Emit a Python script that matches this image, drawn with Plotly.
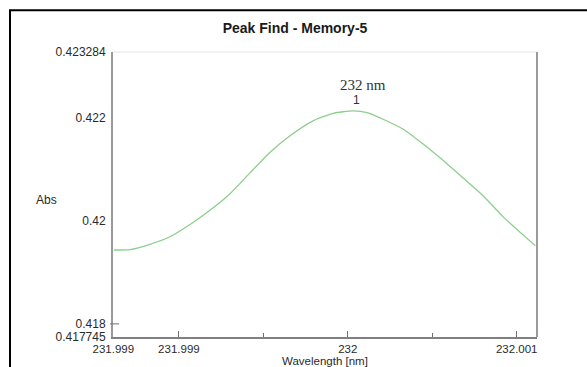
import plotly.graph_objects as go

# Data
wavelength = [231.998616, 231.998710, 231.998829, 231.998947, 231.999066, 231.999184,
              231.999303, 231.999421, 231.999540, 231.999658, 231.999794, 231.999913,
              232.000031, 232.000114, 232.000209, 232.000328, 232.000446, 232.000565,
              232.000683, 232.000802, 232.000920, 232.001039, 232.001110]
absorbance = [0.419436, 0.419443, 0.419546, 0.419694, 0.419932, 0.420208,
              0.420530, 0.420935, 0.421335, 0.421655, 0.421945, 0.422093,
              0.422138, 0.422107, 0.421977, 0.421784, 0.421495, 0.421173,
              0.420833, 0.420485, 0.420080, 0.419725, 0.419520]

x_tickvals = [231.998612, 231.999, 232.0, 232.001]
x_ticktext = ["231.999", "231.999", "232", "232.001"]
x_minor = [231.9995, 232.0005]
y_tickvals = [0.4177455, 0.418, 0.42, 0.422, 0.4232835]
y_ticktext = ["0.417745", "0.418", "0.42", "0.422", "0.423284"]
x_range = [231.99861, 232.00112]
y_range = [0.417745, 0.423284]

FONT = "Liberation Sans, Arial, sans-serif"
TXT = "#2a2a2a"

fig = go.Figure()
fig.add_trace(go.Scatter(x=wavelength, y=absorbance, mode="lines",
                         line=dict(color="#8ccf8c", width=1.3, shape="spline", smoothing=0.6),
                         hoverinfo="skip", showlegend=False))

W, H = 587, 367
L, R, T, B = 113, 50, 52, 28
pw = W - L - R
ph = H - T - B

def px(xp):
    return (xp - L) / pw

def py(yp):
    return (H - B - yp) / ph

fig.update_layout(
    width=W, height=H,
    margin=dict(l=L, r=R, t=T, b=B),
    paper_bgcolor="white", plot_bgcolor="white",
    font=dict(family=FONT, size=12, color=TXT),
    title=dict(text="<b>Peak Find - Memory-5</b>", x=295 / W, xanchor="center",
               y=1 - 28 / H, yanchor="middle", font=dict(size=14, color="#1a1a1a", family=FONT)),
    xaxis=dict(range=x_range, tickvals=x_tickvals, ticktext=x_ticktext,
               showgrid=False, zeroline=False, showline=True, linecolor="#808080", linewidth=1.5,
               ticks="inside", ticklen=6, tickcolor="#707070", tickwidth=1,
               minor=dict(tickvals=x_minor, ticks="inside", ticklen=4, tickcolor="#707070"),
               tickfont=dict(size=11.5, color=TXT), ticklabelstandoff=0),
    yaxis=dict(range=y_range, tickvals=y_tickvals, ticktext=y_ticktext,
               showgrid=False, zeroline=False, showline=True, linecolor="#9a9a9a", linewidth=2,
               ticks="", tickfont=dict(size=12, color=TXT), ticklabelstandoff=3),
)

shapes = [
    # outer black frame
    dict(type="rect", xref="paper", yref="paper", x0=px(10), x1=px(600), y0=py(380), y1=py(10),
         line=dict(color="black", width=2), fillcolor="rgba(0,0,0,0)", layer="below"),
    # top border of plot area (light)
    dict(type="line", xref="paper", yref="paper", x0=0, x1=1, y0=1, y1=1,
         line=dict(color="#e4e4e4", width=1)),
    # right border of plot area
    dict(type="line", xref="paper", yref="paper", x0=1, x1=1, y0=0, y1=1,
         line=dict(color="#7a7a7a", width=1.5)),
    # tick at 0.418
    dict(type="line", xref="paper", yref="y", x0=px(110), x1=px(119), y0=0.418, y1=0.418,
         line=dict(color="#707070", width=1)),
]
fig.update_layout(shapes=shapes)

annotations = [
    dict(text="232 nm", xref="paper", yref="paper", x=px(362.5), y=py(85), showarrow=False,
         font=dict(family="Liberation Serif, Times New Roman, serif", size=15, color="#333333"),
         xanchor="center", yanchor="middle"),
    dict(text="1", xref="paper", yref="paper", x=px(356), y=py(100), showarrow=False,
         font=dict(size=12, color="#333333"), xanchor="center", yanchor="middle"),
    dict(text="Abs", xref="paper", yref="paper", x=px(46.7), y=py(201.5), showarrow=False,
         font=dict(size=12, color=TXT), xanchor="center", yanchor="middle"),
    dict(text="Wavelength [nm]", xref="paper", yref="paper", x=px(324.5), y=py(363), showarrow=False,
         font=dict(size=11.5, color=TXT), xanchor="center", yanchor="middle"),
]
fig.update_layout(annotations=annotations)

fig.write_html("out.html")
